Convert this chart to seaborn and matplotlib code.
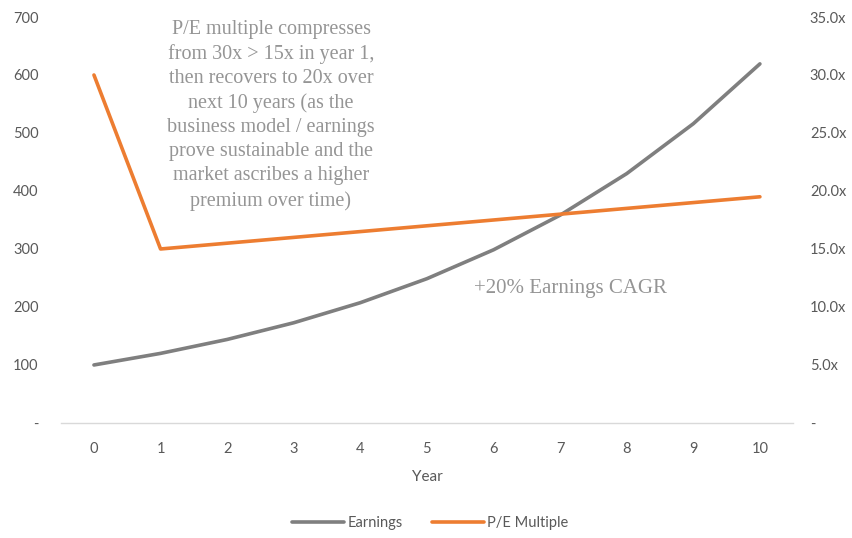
import matplotlib
matplotlib.use("Agg")
import matplotlib.pyplot as plt
import seaborn as sns
import pandas as pd
from matplotlib.ticker import FuncFormatter, MultipleLocator

years = [0, 1, 2, 3, 4, 5, 6, 7, 8, 9, 10]
earnings = [100, 120, 144, 172.8, 207.4, 248.8, 298.6, 358.3, 430.0, 516.0, 619.2]
pe_multiple = [30, 15, 15.5, 16, 16.5, 17, 17.5, 18, 18.5, 19, 19.5]

df = pd.DataFrame({"Year": years, "Earnings": earnings, "P/E Multiple": pe_multiple})

sns.set_theme(style="white")
plt.rcParams["font.family"] = ["Lato", "DejaVu Sans"]

fig = plt.figure(figsize=(8.52, 5.38), dpi=100)
ax = fig.add_axes([0.0712, 0.2138, 0.8598, 0.7546])
ax2 = ax.twinx()

tick_color = "#595959"
gray = "#7f7f7f"
orange = "#ED7D31"

sns.lineplot(data=df, x="Year", y="Earnings", ax=ax, color=gray, linewidth=2.6, label="Earnings", legend=False)
sns.lineplot(data=df, x="Year", y="P/E Multiple", ax=ax2, color=orange, linewidth=2.6, label="P/E Multiple", legend=False)

ax.set_xlim(-0.5, 10.5)
ax.set_ylim(0, 700)
ax2.set_ylim(0, 35)
ax.set_xticks(years)
ax.yaxis.set_major_locator(MultipleLocator(100))
ax2.yaxis.set_major_locator(MultipleLocator(5))
ax.yaxis.set_major_formatter(FuncFormatter(lambda v, p: "-" if v == 0 else f"{v:.0f}"))
ax2.yaxis.set_major_formatter(FuncFormatter(lambda v, p: "-" if v == 0 else f"{v:.1f}x"))

for a in (ax, ax2):
    for s in a.spines.values():
        s.set_visible(False)
    a.tick_params(length=0, labelsize=10.5, colors=tick_color)
    a.set_ylabel("")
ax.spines["bottom"].set_visible(True)
ax.spines["bottom"].set_color("#d9d9d9")
ax.spines["bottom"].set_linewidth(1.0)
ax.tick_params(axis="x", pad=14)
ax.tick_params(axis="y", pad=16)
ax2.tick_params(axis="y", pad=12)
ax.set_xlabel("Year", fontsize=11, color=tick_color, labelpad=10)
ax.grid(False)
ax2.grid(False)

note = ("P/E multiple compresses\nfrom 30x > 15x in year 1,\nthen recovers to 20x over\n"
        "next 10 years (as the\nbusiness model / earnings\nprove sustainable and the\n"
        "market ascribes a higher\npremium over time)")
fig.text(271 / 852, 1 - 20 / 538, note, ha="center", va="top", fontsize=14.5,
         family=["Liberation Serif", "DejaVu Serif"], color="#959595", linespacing=1.36)
fig.text(570 / 852, 1 - 288 / 538, "+20% Earnings CAGR", ha="center", va="center", fontsize=15,
         family=["Liberation Serif", "DejaVu Serif"], color="#959595")

h1, l1 = ax.get_legend_handles_labels()
h2, l2 = ax2.get_legend_handles_labels()
fig.legend(h1 + h2, l1 + l2, loc="center", bbox_to_anchor=(430 / 852, 1 - 523 / 538), ncol=2,
           frameon=False, fontsize=10.5, handlelength=3.6, columnspacing=2.0, handletextpad=0.2,
           labelcolor=tick_color)

fig.savefig("out.png", dpi=100)
